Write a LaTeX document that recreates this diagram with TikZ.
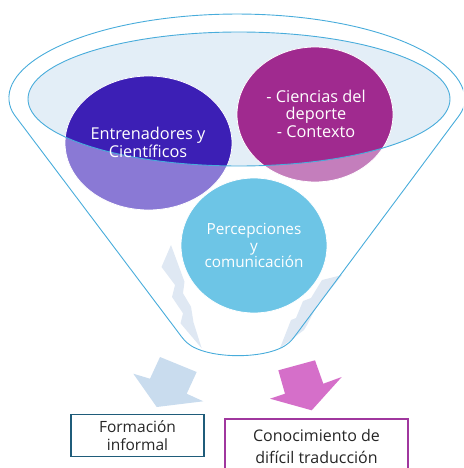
\documentclass[tikz,border=0pt]{standalone}
\usepackage{fontspec}
\setmainfont{Open Sans}
\definecolor{funblue}{HTML}{48ACDB}
\definecolor{ellfill}{HTML}{E3EEF7}
\definecolor{pdark}{HTML}{3C1FB5}
\definecolor{plight}{HTML}{8A79D5}
\definecolor{mdark}{HTML}{A02A8F}
\definecolor{mlight}{HTML}{C47EBC}
\definecolor{cblue}{HTML}{6DC5E6}
\definecolor{boltc}{HTML}{DFE8F3}
\definecolor{arrowl}{HTML}{C9DCEE}
\definecolor{arrowr}{HTML}{D56FC9}
\definecolor{boxa}{HTML}{1F5C7A}
\definecolor{boxb}{HTML}{A0379E}
\definecolor{txtgray}{HTML}{262626}
\begin{document}
\begin{tikzpicture}[x=1pt,y=-1pt,
  funline/.style={draw=funblue,line width=0.9pt},
  ctext/.style={text=white,align=center,font=\fontsize{16.3}{17.5}\selectfont},
  boxnode/.style={align=center,text=txtgray,inner sep=0pt}]
\useasboundingbox (0,0) rectangle (463,468);
\clip (0,0) rectangle (463,468);
% lightning bolts
\fill[boltc] (171,245) -- (161.5,267) -- (175,285) -- (172,297) -- (183,313.3) -- (180.5,323.3) -- (201.7,348.3) -- (193.5,322.3) -- (191,306.7) -- (183,293.3) -- (184.5,281.7) -- cycle;
\fill[boltc] (342,275) -- (322,280) -- (311,298) -- (303,301) -- (296,318) -- (291,320) -- (280,348) -- (304,330) -- (307,325) -- (318,304) -- (322,300) -- cycle;
% funnel outline
\draw[funline, rounded corners=4pt] (12.2,112) arc[start angle=172,end angle=368,x radius=227,y radius=86] -- (292,340) .. controls (270,360) and (206,360) .. (184,340) -- cycle;
% inner ellipse
\fill[ellfill] (239,99) ellipse [x radius=211, y radius=67];
\fill[plight] (148.5,143) ellipse [x radius=83.5, y radius=67];
\fill[mlight] (315,114.5) ellipse [x radius=78, y radius=67.5];
\begin{scope}
  \clip (239,99) ellipse [x radius=211, y radius=67];
  \fill[pdark] (148.5,143) ellipse [x radius=83.5, y radius=67];
  \fill[mdark] (315,114.5) ellipse [x radius=78, y radius=67.5];
\end{scope}
\draw[white, line width=0.8pt] (148.5,143) ellipse [x radius=83.5, y radius=67];
\draw[white, line width=0.8pt] (315,114.5) ellipse [x radius=78, y radius=67.5];
\draw[funline] (239,99) ellipse [x radius=211, y radius=67];
\filldraw[fill=cblue, draw=white, line width=0.8pt] (254,245.5) ellipse [x radius=73, y radius=67.5];
% circle texts
\node[ctext] (t1) at (148,142.5) {Entrenadores y\\Científicos};
\node[ctext] (t2) at (316,113.5) {- Ciencias del\\deporte\\- Contexto};
\node[ctext, font=\fontsize{15.3}{16.5}\selectfont] (t3) at (254,245.5) {Percepciones\\y\\comunicación};
% block arrows
\fill[arrowl] (133.3,373.7) -- (150,378.7) -- (160,357) -- (196.7,372) -- (186.7,393.7) -- (203.3,401.3) -- (156.7,407) -- cycle;
\fill[arrowr] (278.3,370.3) -- (315,360.3) -- (323.3,383.7) -- (341.7,377) -- (311.7,410.3) -- (270,398.7) -- (285,393.7) -- cycle;
% boxes
\node[boxnode, draw=boxa, line width=1.6pt, minimum width=133pt, minimum height=42pt, font=\fontsize{15.5}{18}\selectfont] (fi) at (137.5,435.5) {Formación\\informal};
\node[boxnode, draw=boxb, line width=1.4pt, minimum width=183pt, minimum height=62pt] (cd) at (316.5,450) {};
\node[boxnode, font=\fontsize{16}{22}\selectfont] (cdt) at (316.5,446) {Conocimiento de\\difícil traducción};
\end{tikzpicture}
\end{document}
